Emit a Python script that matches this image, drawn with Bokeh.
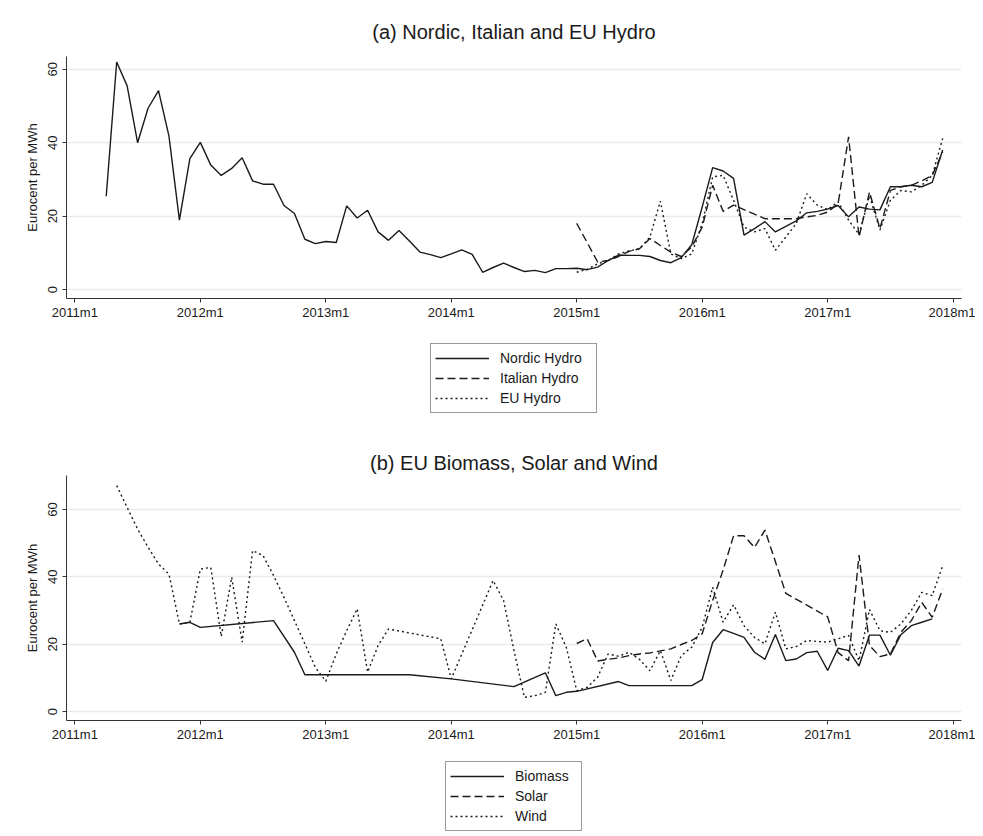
from bokeh.plotting import figure
from bokeh.layouts import column
from bokeh.models import Legend, LegendItem, FixedTicker, Range1d
from bokeh.embed import file_html
from bokeh.resources import INLINE

# x values are months since 2011m1 (0 = 2011m1)
tick_months = [0, 12, 24, 36, 48, 60, 72, 84]
tick_labels = ["2011m1", "2012m1", "2013m1", "2014m1", "2015m1", "2016m1", "2017m1", "2018m1"]
y_ticks = [0, 20, 40, 60]

# ---- Panel (a) ----
nordic_m = list(range(3, 84))
nordic_v = [25.4, 62.0, 55.5, 40.0, 49.4, 54.2, 41.8, 18.9, 35.7, 40.1,
            33.9, 31.1, 33.0, 35.9, 29.6, 28.7, 28.7, 22.9, 20.7, 13.7,
            12.5, 13.1, 12.8, 22.8, 19.5, 21.6, 15.7, 13.4, 16.1, 13.2,
            10.2, 9.5, 8.7, 9.7, 10.8, 9.6, 4.7, 6.0, 7.2, 6.0,
            4.9, 5.2, 4.6, 5.7, 5.7, 5.8, 5.4, 6.1, 7.9, 9.4,
            9.3, 9.3, 9.0, 7.9, 7.3, 8.7, 12.2, 22.5, 33.2, 32.3,
            30.3, 14.8, 16.6, 18.5, 15.7, 17.2, 18.7, 20.9, 21.3, 21.9,
            22.9, 19.8, 22.5, 21.9, 21.7, 28.0, 28.0, 28.4, 28.0, 29.2,
            38.0]

italian_m = [48, 49, 50, 51, 52, 53, 54, 55, 56, 57, 58, 59, 60, 61, 62, 63,
             66, 69, 70, 71, 72, 73, 74, 75, 76, 77, 78, 79, 80, 81, 82, 83]
italian_v = [18.0, 12.8, 7.5, 7.9, 9.0, 10.4, 11.1, 13.9, 12.0, 10.2, 9.0, 11.6,
             17.0, 28.4, 21.3, 23.0, 19.3, 19.3, 19.8, 20.2, 21.1, 23.4, 41.6,
             14.3, 26.6, 16.6, 27.0, 28.0, 28.4, 29.6, 31.1, 37.5]

euhydro_m = list(range(48, 84))
euhydro_v = [4.7, 5.5, 7.0, 7.9, 9.7, 10.5, 11.1, 14.3, 24.1, 9.7, 8.4, 9.7,
             18.0, 30.7, 31.1, 24.3, 17.0, 15.7, 16.6, 10.7, 14.3, 18.0, 26.1,
             23.0, 21.8, 23.9, 18.9, 15.0, 25.5, 16.2, 24.3, 27.0, 26.6, 28.4,
             31.1, 41.2]

# ---- Panel (b) ----
biomass_m = [10, 11, 12, 19, 21, 22, 32, 36, 42, 45, 46, 47, 48, 52, 53, 59, 60,
             61, 62, 63, 64, 65, 66, 67, 68, 69, 70, 71, 72, 73, 74, 75, 76, 77,
             78, 79, 80, 81, 82]
biomass_v = [26.0, 26.5, 25.0, 27.0, 17.6, 10.9, 10.9, 9.7, 7.4, 11.5, 4.7, 5.7,
             6.0, 8.9, 7.7, 7.7, 9.5, 20.5, 24.3, 23.2, 22.0, 17.6, 15.5, 22.9,
             15.1, 15.6, 17.5, 17.9, 12.2, 18.8, 18.1, 13.5, 22.7, 22.7, 16.7,
             22.8, 25.5, 26.5, 27.5]

solar_m = [48, 49, 50, 51, 52, 53, 54, 55, 56, 57, 58, 59, 60, 61, 62, 63, 64,
           65, 66, 68, 72, 73, 74, 75, 76, 77, 78, 79, 80, 81, 82, 83]
solar_v = [20.2, 21.6, 15.0, 15.5, 15.9, 16.6, 17.1, 17.4, 18.0, 18.6, 19.9,
           21.1, 23.1, 33.0, 42.0, 52.2, 52.2, 48.7, 53.9, 35.1, 28.1, 17.5,
           15.1, 46.5, 19.6, 16.3, 17.1, 23.5, 27.0, 32.4, 28.0, 36.4]

wind_m = [4, 5, 6, 7, 8, 9, 10, 11, 12, 13, 14, 15, 16, 17, 18, 19, 20, 21, 22,
          23, 24, 25, 26, 27, 28, 29, 30, 35, 36, 40, 41, 42, 43, 44, 45, 46,
          47, 48, 49, 50, 51, 52, 53, 54, 55, 56, 57, 58, 59, 60, 61, 62, 63,
          64, 65, 66, 67, 68, 69, 70, 71, 72, 73, 74, 75, 76, 77, 78, 79, 80,
          81, 82, 83]
wind_v = [67.1, 60.6, 54.2, 48.8, 43.8, 40.8, 26.0, 26.5, 42.3, 42.8, 22.3,
          39.9, 20.6, 47.8, 46.3, 40.4, 33.9, 27.0, 20.1, 13.1, 9.0, 17.1, 24.0,
          30.5, 11.7, 19.6, 24.5, 21.6, 9.7, 38.9, 33.0, 18.1, 4.2, 4.7, 5.7,
          26.0, 19.1, 6.2, 7.2, 10.2, 17.1, 16.4, 17.6, 15.5, 12.1, 18.1, 9.2,
          16.6, 19.1, 25.0, 36.9, 26.5, 31.7, 25.5, 22.0, 20.1, 29.5, 18.6,
          19.3, 21.1, 20.8, 20.6, 21.6, 22.6, 15.1, 30.3, 24.0, 23.5, 26.0,
          30.0, 35.4, 34.4, 43.3]

FONT = "Liberation Sans"
INK = "#1a1a1a"
AXIS = "#333333"
STYLES = [None, "8 4", "2 3"]
W = 975
FRAME_LEFT = 66


def line_kw(dash):
    kw = dict(line_color=INK, line_width=1.4)
    if dash is not None:
        kw["line_dash"] = dash
    return kw


def make_panel(title, y_start, y_end, height, top, bottom, standoff, series):
    p = figure(width=W, height=height,
               x_range=Range1d(-0.8, 84.8), y_range=Range1d(y_start, y_end),
               output_backend="svg", toolbar_location=None,
               min_border_left=FRAME_LEFT, min_border_right=W - 961,
               min_border_top=top, min_border_bottom=bottom,
               background_fill_color="white", border_fill_color="white")
    p.outline_line_color = None
    p.title.text = title
    p.title.align = "center"
    p.title.text_font = FONT
    p.title.text_font_size = "20px"
    p.title.text_font_style = "normal"
    p.title.text_color = INK
    p.title.standoff = standoff

    p.xgrid.grid_line_color = None
    p.ygrid.grid_line_color = "#eaeaea"
    p.ygrid.grid_line_width = 1.5
    p.ygrid.ticker = FixedTicker(ticks=y_ticks)

    p.xaxis.ticker = FixedTicker(ticks=tick_months)
    p.xaxis.major_label_overrides = {m: l for m, l in zip(tick_months, tick_labels)}
    p.yaxis.ticker = FixedTicker(ticks=y_ticks)
    p.yaxis.major_label_orientation = "vertical"
    p.yaxis.axis_label = "Eurocent per MWh"
    for ax in (p.xaxis[0], p.yaxis[0]):
        ax.axis_line_color = AXIS
        ax.major_tick_line_color = AXIS
        ax.minor_tick_line_color = None
        ax.major_tick_in = 0
        ax.major_tick_out = 4
        ax.major_label_text_font = FONT
        ax.major_label_text_font_size = "13px"
        ax.major_label_text_color = INK
        ax.axis_label_text_font = FONT
        ax.axis_label_text_font_size = "13px"
        ax.axis_label_text_font_style = "normal"
        ax.axis_label_text_color = INK
    p.xaxis.major_label_standoff = 2
    p.yaxis.major_label_standoff = 5
    p.yaxis.axis_label_standoff = 6

    for (label, xs, ys), dash in zip(series, STYLES):
        p.line(xs, ys, **line_kw(dash))
    return p


def make_legend(series, height, box_left, box_bottom, label_width):
    p = figure(width=W, height=height, x_range=Range1d(0, 100), y_range=Range1d(0, 100),
               output_backend="svg", toolbar_location=None,
               x_axis_type=None, y_axis_type=None,
               min_border=0, min_border_left=0, min_border_right=0,
               min_border_top=0, min_border_bottom=0,
               background_fill_color="white", border_fill_color="white")
    p.outline_line_color = None
    p.grid.grid_line_color = None
    items = []
    for (label, xs, ys), dash in zip(series, STYLES):
        # sample of the series' style only (placed outside the visible range)
        r = p.line([-50, -40], [-50, -50], **line_kw(dash))
        items.append(LegendItem(label=label, renderers=[r]))
    # the column aligns this frame with the panels' frames (left edge at FRAME_LEFT)
    leg = Legend(items=items, orientation="vertical",
                 location=(box_left - FRAME_LEFT, box_bottom),
                 label_text_font=FONT, label_text_font_size="14px",
                 label_text_color=INK, glyph_width=54, glyph_height=20,
                 label_height=20, label_width=label_width, spacing=0, padding=4,
                 label_standoff=11, border_line_color=AXIS, border_line_width=1,
                 background_fill_color="white", background_fill_alpha=1.0, margin=0)
    p.add_layout(leg, "center")
    return p


series_a = [("Nordic Hydro", nordic_m, nordic_v),
            ("Italian Hydro", italian_m, italian_v),
            ("EU Hydro", euhydro_m, euhydro_v)]
series_b = [("Biomass", biomass_m, biomass_v),
            ("Solar", solar_m, solar_v),
            ("Wind", wind_m, wind_v)]

# panel a: canvas 0..328, frame 56..298
fig_a = make_panel("(a) Nordic, Italian and EU Hydro", -2.45, 63.5, 328, 56, 30, 27, series_a)
# legend a: canvas 328..418, box 345..413
leg_a = make_legend(series_a, 90, 430, 5, 92)
# panel b: canvas 418..745, frame 475..720
fig_b = make_panel("(b) EU Biomass, Solar and Wind", -2.67, 70.1, 327, 57, 25, 4, series_b)
# legend b: canvas 745..832
leg_b = make_legend(series_b, 87, 445, 1, 62)

layout = column(fig_a, leg_a, fig_b, leg_b, spacing=0)
open("out.html", "w").write(file_html(layout, INLINE))
